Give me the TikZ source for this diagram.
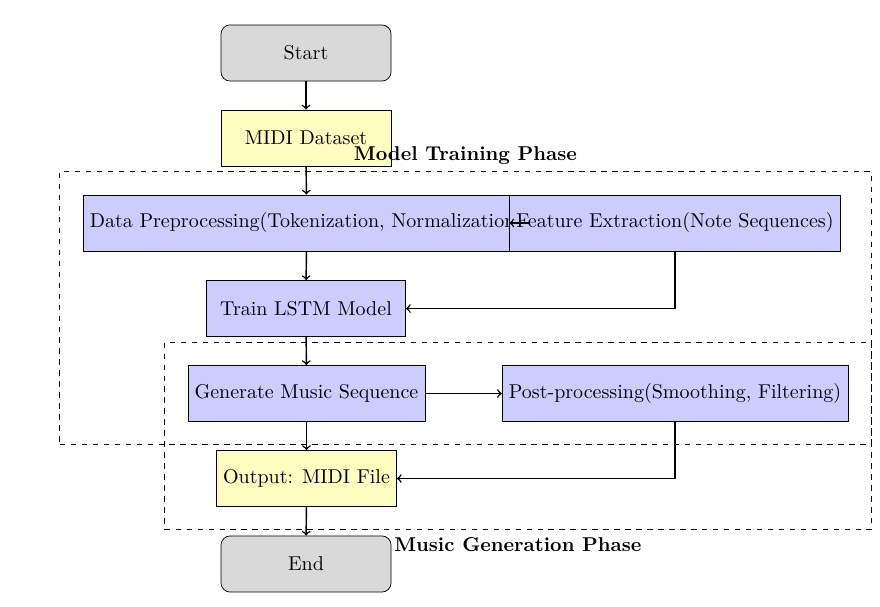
\documentclass[tikz,border=0pt,11pt]{standalone}
\usepackage{amsmath}
\usepackage{tikz}
\usetikzlibrary{arrows,calc,fit}

\tikzset{
    startstop/.style={draw=black, rounded corners=5pt, fill=gray!30, minimum width=3.27cm, minimum height=1.08cm},
    iobox/.style={draw=black, fill=yellow!25, minimum height=1.08cm, minimum width=3.27cm},
    procbox/.style={draw=black, fill=blue!20, minimum height=1.08cm, minimum width=3.83cm},
    phase/.style={draw=black, dashed, inner sep=0.44cm},
    arr/.style={draw=black, ->, thick}
}

\begin{document}
\begin{tikzpicture}
        \useasboundingbox (0,0) rectangle (16.923,-11.654);
        \node[startstop] (start) at (5.885,-1.019) {Start};
        \node[iobox] (dataset) at (5.885,-2.654) {MIDI Dataset};
        \node[procbox] (preproc) at (5.894,-4.288) {Data Preprocessing(Tokenization, Normalization)};
        \node[procbox] (feature) at (12.981,-4.288) {Feature Extraction(Note Sequences)};
        \node[procbox] (train) at (5.885,-5.933) {Train LSTM Model};
        \node[procbox] (generate) at (5.894,-7.567) {Generate Music Sequence};
        \node[procbox] (postproc) at (12.981,-7.567) {Post-processing(Smoothing, Filtering)};
        \node[iobox] (output) at (5.894,-9.202) {Output: MIDI File};
        \node[startstop] (end) at (5.885,-10.846) {End};
        % phases
        \node[phase, fit=(preproc)(feature)(train)(generate)(postproc), label={[font=\bfseries]above:Model Training Phase}] (training) {};
        \node[phase, fit=(generate)(postproc)(output), label={[font=\bfseries]below:Music Generation Phase}] (musicgen) {};
        % arrows
        \draw[arr] (start) -- (dataset);
        \draw[arr] (dataset) -- (preproc);
        \draw[arr, <-] (feature.west) -- (preproc.east);
        \draw[arr] (preproc) -- (train);
        \draw[arr] (feature.south) |- (train.east);
        \draw[arr] (train) -- (generate);
        \draw[arr] (generate) -- (postproc);
        \draw[arr] (generate) -- (output);
        \draw[arr] (postproc.south) |- (output.east);
        \draw[arr] (output) -- (end);
    \end{tikzpicture}
\end{document}
